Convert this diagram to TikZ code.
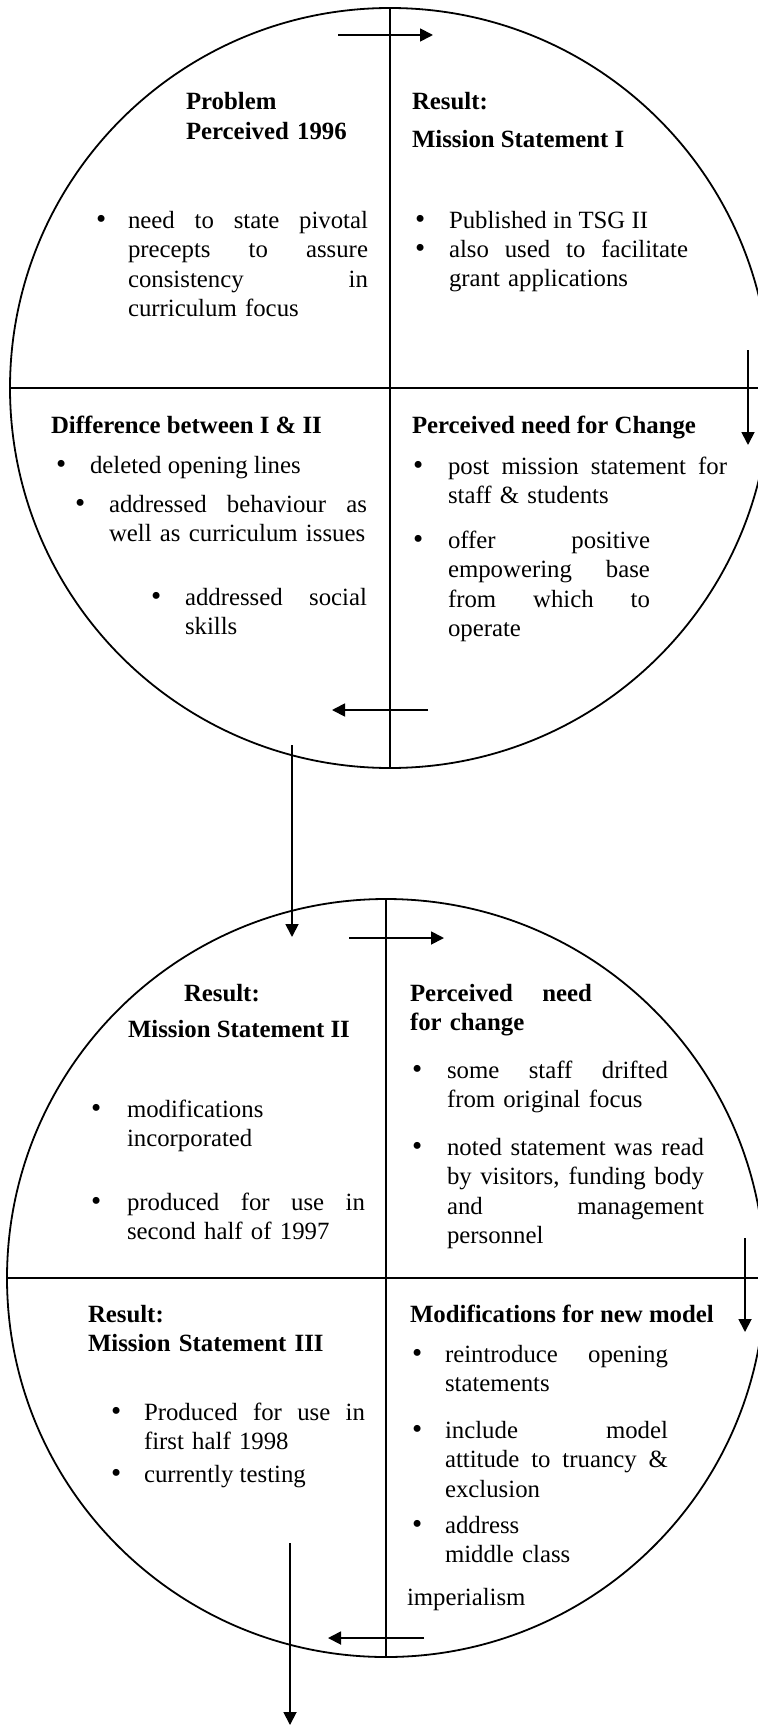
\documentclass[tikz,border=0pt]{standalone}
\usepackage{fontspec}
\setmainfont{Liberation Serif}
\usetikzlibrary{arrows.meta}
\newcommand{\jl}[1]{\makebox[\hsize][s]{\spaceskip=\fontdimen2\font plus 1fil\relax\xspaceskip=\spaceskip #1}}
\begin{document}
\begin{tikzpicture}[x=0.5pt,y=-0.5pt,
  txt/.style={anchor=base west, inner sep=0pt, outer sep=0pt, align=left,
    font=\fontsize{12.4}{14.75}\selectfont},
  hd/.style={txt, font=\fontsize{12.4}{14.75}\selectfont\bfseries},
  bul/.style={txt, font=\fontsize{14.5}{14.75}\selectfont},
  frame/.style={line width=0.9pt},
  flow/.style={line width=0.9pt, -{Triangle[length=6.5pt,width=6.5pt]}}]
\path[fill=white, use as bounding box] (0,0) rectangle (758,1728);

% ---------- first circle ----------
\coordinate (c1) at (390,388);
\coordinate (v1n) at (390,8);
\coordinate (v1s) at (390,768);
\coordinate (h1w) at (10,388);
\coordinate (h1e) at (770,388);
\draw[frame] (c1) circle[radius=190pt];
\draw[frame] (v1n) -- (v1s);
\draw[frame] (h1w) -- (h1e);

\coordinate (a1s) at (338,35);  \coordinate (a1e) at (433,35);
\coordinate (a2s) at (748,350); \coordinate (a2e) at (748,445);
\coordinate (a3s) at (428,710); \coordinate (a3e) at (332,710);
\coordinate (a4s) at (292,745); \coordinate (a4e) at (292,937);
\draw[flow] (a1s) -- (a1e);
\draw[flow] (a2s) -- (a2e);
\draw[flow] (a3s) -- (a3e);
\draw[flow] (a4s) -- (a4e);

\node[hd,text width=100pt] (p96) at (186,110) {Problem\\Perceived 1996};
\node[hd] (r1) at (412,110) {Result:};
\node[hd] (ms1) at (412,148) {Mission Statement I};

\node[bul] (b11) at (96,228) {•};
\node[txt,text width=120pt] (t11) at (128,228)
  {\jl{need to state pivotal}\\\jl{precepts to assure}\\\jl{consistency in}\\curriculum focus};
\node[bul] (b12) at (415,228) {•};
\node[txt] (t12) at (449,228) {Published in TSG II};
\node[bul] (b13) at (415,257) {•};
\node[txt,text width=119.5pt] (t13) at (449,257) {\jl{also used to facilitate}\\grant applications};

\node[hd] (d12) at (51,433) {Difference between I \& II};
\node[bul] (b14) at (56,473) {•};
\node[txt] (t14) at (90,473) {deleted opening lines};
\node[bul] (b15) at (75,512) {•};
\node[txt,text width=129pt] (t15) at (109,512) {\jl{addressed behaviour as}\\well as curriculum issues};
\node[bul] (b16) at (151,605) {•};
\node[txt,text width=91pt] (t16) at (185,605) {\jl{addressed social}\\skills};

\node[hd] (pc1) at (412,433) {Perceived need for Change};
\node[bul] (b17) at (413,474) {•};
\node[txt,text width=139.5pt] (t17) at (448,474) {\jl{post mission statement for}\\staff \& students};
\node[bul] (b18) at (413,548) {•};
\node[txt,text width=101pt] (t18) at (448,548)
  {\jl{offer positive}\\\jl{empowering base}\\\jl{from which to}\\operate};

% ---------- second circle ----------
\coordinate (c2) at (386,1278);
\coordinate (v2n) at (386,899);
\coordinate (v2s) at (386,1657);
\coordinate (h2w) at (7,1278);
\coordinate (h2e) at (765,1278);
\draw[frame] (c2) circle[radius=189.5pt];
\draw[frame] (v2n) -- (v2s);
\draw[frame] (h2w) -- (h2e);

\coordinate (a5s) at (349,938);  \coordinate (a5e) at (444,938);
\coordinate (a6s) at (745,1238); \coordinate (a6e) at (745,1332);
\coordinate (a7s) at (424,1638); \coordinate (a7e) at (328,1638);
\coordinate (a8s) at (290,1543); \coordinate (a8e) at (290,1725);
\draw[flow] (a5s) -- (a5e);
\draw[flow] (a6s) -- (a6e);
\draw[flow] (a7s) -- (a7e);
\draw[flow] (a8s) -- (a8e);

\node[hd] (r2) at (184,1001) {Result:};
\node[hd] (ms2) at (128,1037) {Mission Statement II};
\node[hd,text width=91pt] (pc2) at (410,1001) {\jl{Perceived need}\\for change};

\node[bul] (b21) at (91,1117) {•};
\node[txt,text width=110pt] (t21) at (127,1117) {modifications\\incorporated};
\node[bul] (b22) at (91,1210) {•};
\node[txt,text width=119pt] (t22) at (127,1210) {\jl{produced for use in}\\second half of 1997};
\node[bul] (b23) at (412,1078) {•};
\node[txt,text width=110.5pt] (t23) at (447,1078) {\jl{some staff drifted}\\from original focus};
\node[bul] (b24) at (412,1155) {•};
\node[txt,text width=128.5pt] (t24) at (447,1155)
  {\jl{noted statement was read}\\\jl{by visitors, funding body}\\\jl{and management}\\personnel};

\node[hd,text width=130pt] (r3) at (88,1322) {Result:\\Mission Statement III};
\node[hd] (mod) at (410,1322) {Modifications for new model};
\node[bul] (b31) at (111,1420) {•};
\node[txt,text width=110.5pt] (t31) at (144,1420) {\jl{Produced for use in}\\first half 1998};
\node[bul] (b32) at (111,1482) {•};
\node[txt] (t32) at (144,1482) {currently testing};
\node[bul] (b33) at (412,1362) {•};
\node[txt,text width=111.5pt] (t33) at (445,1362) {\jl{reintroduce opening}\\statements};
\node[bul] (b34) at (412,1438) {•};
\node[txt,text width=111.5pt] (t34) at (445,1438)
  {\jl{include model}\\\jl{attitude to truancy \&}\\exclusion};
\node[bul] (b35) at (412,1533) {•};
\node[txt,text width=100pt] (t35) at (445,1533) {address\\middle class};
\node[txt] (imp) at (407,1605) {imperialism};
\end{tikzpicture}
\end{document}
